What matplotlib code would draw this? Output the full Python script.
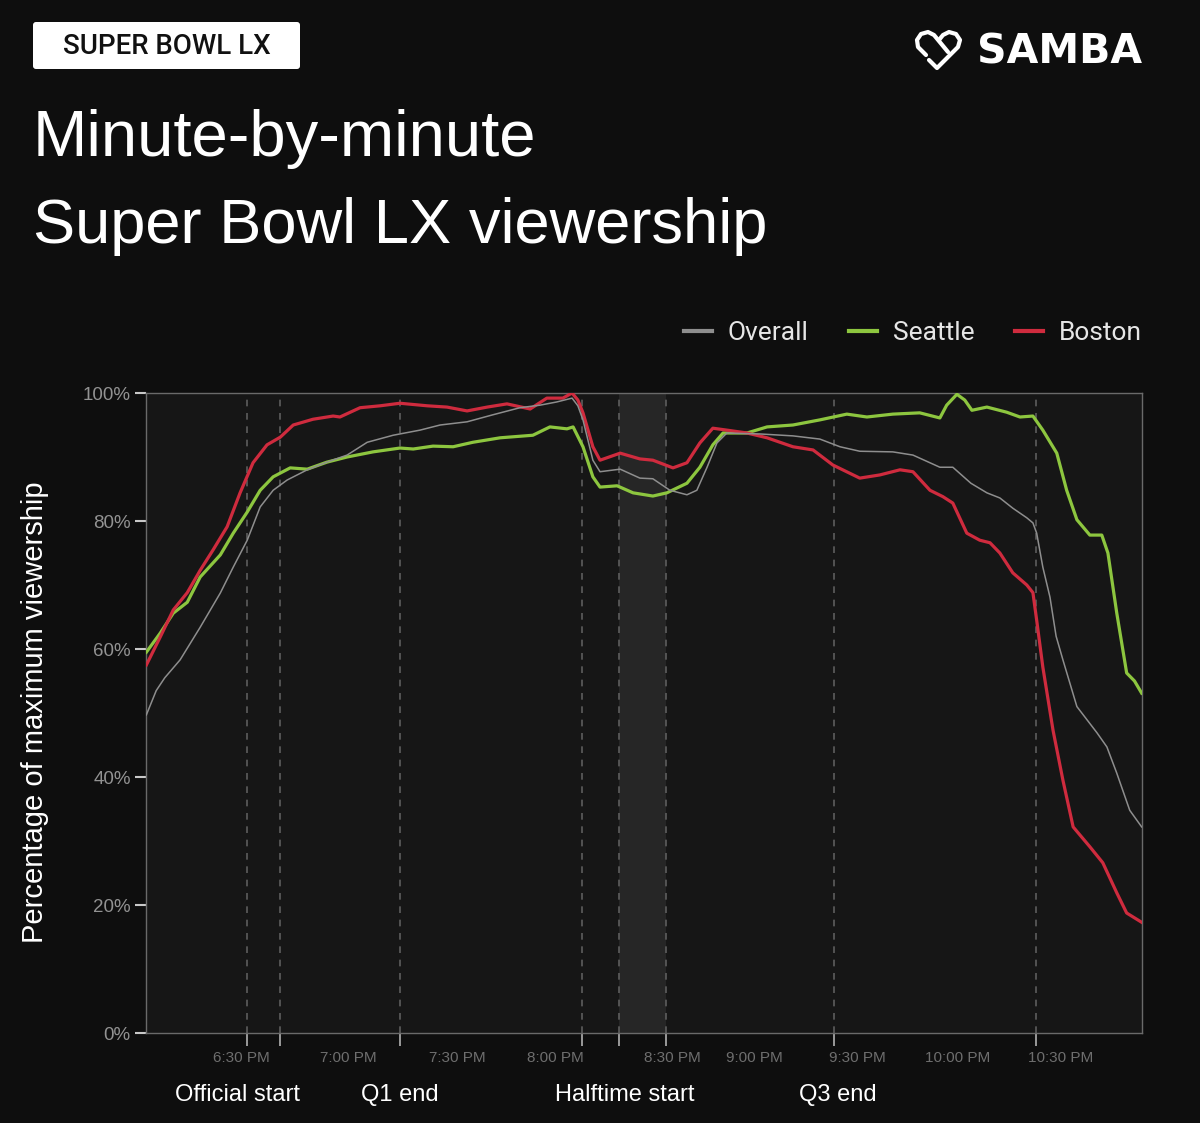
import matplotlib
matplotlib.use("Agg")
import matplotlib.pyplot as plt
from matplotlib.transforms import Affine2D
from matplotlib.patches import FancyBboxPatch
from matplotlib.lines import Line2D

W, H = 1200, 1123

# x = minutes after 6:00 PM, y = % of maximum viewership
overall_t = [1.6, 4.5, 7.0, 11.5, 17.4, 23.3, 27.1, 31.2, 35.0, 38.8, 42.9, 48.8, 54.6, 60.5, 66.4,
             74.0, 81.9, 87.8, 95.7, 103.3, 111.2, 117.1, 122.0, 126.5, 128.2, 129.7, 132.6, 134.7,
             140.6, 146.4, 150.2, 155.2, 160.2, 163.1, 166.1, 169.0, 171.9, 181.6, 191.3, 199.2,
             205.1, 210.9, 220.6, 226.5, 234.4, 238.2, 243.5, 248.2, 252.0, 255.8, 259.9, 261.7,
             262.8, 264.6, 266.7, 268.5, 270.5, 274.6, 280.5, 283.4, 286.3, 290.1, 293.6]
overall_v = [49.7, 53.5, 55.5, 58.3, 63.4, 68.75, 72.8, 77.0, 82.2, 84.8, 86.4, 88.0, 89.2, 90.3, 92.3,
             93.4, 94.2, 95.0, 95.5, 96.6, 97.7, 98.1, 98.6, 99.2, 98.0, 95.8, 89.5, 87.7,
             88.1, 86.7, 86.6, 84.8, 84.1, 84.8, 88.4, 92.2, 93.75, 93.6, 93.3, 92.8,
             91.6, 90.9, 90.8, 90.3, 88.4, 88.4, 85.9, 84.4, 83.6, 82.0, 80.5, 79.7,
             78.1, 72.8, 68.1, 62.0, 58.3, 51.0, 46.9, 44.7, 40.6, 34.8, 32.2]

seattle_t = [1.6, 5.7, 9.5, 13.6, 17.4, 23.3, 27.1, 31.2, 35.0, 38.8, 43.8, 48.8, 54.6, 60.5, 68.1,
             76.0, 79.9, 85.7, 91.6, 97.4, 105.4, 115.0, 120.0, 125.0, 126.8, 129.7, 132.6, 134.7,
             139.7, 144.4, 150.2, 154.3, 160.2, 164.0, 167.8, 170.8, 177.8, 183.7, 191.3, 199.2,
             207.1, 213.0, 220.6, 228.5, 234.4, 236.4, 239.4, 241.7, 243.8, 248.2, 254.0, 257.9,
             261.7, 264.6, 268.7, 271.6, 274.6, 278.4, 281.9, 283.7, 286.3, 289.2, 291.5, 293.6]
seattle_v = [59.5, 62.5, 65.6, 67.3, 71.25, 74.7, 78.1, 81.4, 84.8, 86.9, 88.3, 88.1, 89.2, 90.0, 90.8,
             91.4, 91.25, 91.7, 91.6, 92.3, 93.0, 93.4, 94.7, 94.4, 94.7, 91.6, 86.9, 85.3,
             85.5, 84.4, 83.9, 84.4, 85.9, 88.4, 91.9, 93.75, 93.75, 94.7, 95.0, 95.8,
             96.7, 96.25, 96.7, 96.9, 96.1, 98.1, 99.8, 98.9, 97.3, 97.8, 97.0, 96.25,
             96.4, 94.2, 90.6, 84.8, 80.2, 77.8, 77.8, 75.0, 65.6, 56.25, 55.0, 53.1]

boston_t = [1.6, 5.7, 9.5, 13.6, 17.4, 21.2, 25.3, 29.1, 32.9, 37.0, 40.9, 44.7, 50.5, 56.4, 58.4,
            64.3, 70.2, 76.0, 84.0, 89.8, 95.7, 101.6, 107.4, 114.2, 119.1, 123.8, 126.5, 128.2,
            129.7, 132.6, 134.7, 140.6, 146.4, 150.2, 156.1, 160.2, 164.0, 167.8, 171.9, 177.8,
            183.7, 191.3, 197.2, 203.0, 210.9, 216.8, 222.7, 226.5, 231.5, 235.3, 238.2, 242.3,
            246.1, 249.1, 252.0, 255.8, 259.9, 261.7, 262.8, 264.6, 267.6, 270.5, 273.5, 278.4,
            282.2, 286.3, 289.2, 293.6]
boston_v = [57.5, 61.9, 66.1, 68.8, 72.3, 75.5, 79.1, 84.4, 89.1, 91.9, 93.1, 95.0, 95.9, 96.4, 96.25,
            97.7, 98.0, 98.4, 98.0, 97.8, 97.2, 97.8, 98.3, 97.5, 99.2, 99.2, 100.0, 98.9,
            96.9, 91.6, 89.5, 90.6, 89.7, 89.5, 88.3, 89.1, 92.2, 94.5, 94.2, 93.75,
            93.0, 91.6, 91.1, 88.75, 86.7, 87.2, 88.0, 87.7, 84.8, 83.8, 82.8, 78.1,
            77.0, 76.6, 75.0, 71.9, 70.0, 68.8, 64.5, 57.2, 47.3, 39.5, 32.2, 29.1,
            26.6, 21.9, 18.75, 17.3]

tick_pos = [29.4, 60.8, 92.8, 121.5, 155.8, 180.1, 210.1, 239.7, 269.9]
tick_labels = ["6:30 PM", "7:00 PM", "7:30 PM", "8:00 PM", "8:30 PM",
               "9:00 PM", "9:30 PM", "10:00 PM", "10:30 PM"]
event_lines = [31.2, 40.9, 76.0, 129.4, 140.3, 154.0, 203.3, 262.5]
halftime = (140.3, 154.0)
event_pos = [28.4, 76.0, 141.9, 204.5]
event_names = ["Official start", "Q1 end", "Halftime start", "Q3 end"]
y_ticks = [0, 20, 40, 60, 80, 100]

BG = "#0e0e0e"
GRAY, GREEN, RED = "#8e8e8e", "#8dc63f", "#cf2b3e"

fig = plt.figure(figsize=(W / 100, H / 100), dpi=100, facecolor=BG)
# pixel coords measured from the top-left corner
px = Affine2D().scale(1 / W, -1 / H).translate(0, 1) + fig.transFigure

ax = fig.add_axes([146 / W, 1 - 1033 / H, (1142 - 146) / W, (1033 - 393) / H])
ax.set_facecolor("#161616")

ax.axvspan(*halftime, color="#262626", lw=0, zorder=0)
for x in event_lines:
    ax.axvline(x, color="#5e5e5e", lw=1.2, ls=(0, (4, 4)), zorder=1)

l_sea, = ax.plot(seattle_t, seattle_v, color=GREEN, lw=2.3, zorder=3, solid_joinstyle="round")
l_bos, = ax.plot(boston_t, boston_v, color=RED, lw=2.3, zorder=4, solid_joinstyle="round")
l_all, = ax.plot(overall_t, overall_v, color=GRAY, lw=1.1, zorder=5, solid_joinstyle="round")

ax.set_xlim(1.5, 293.7)
ax.set_ylim(0, 100)
for s in ax.spines.values():
    s.set_color("#6a6a6a")
    s.set_linewidth(1.0)

ax.set_yticks(y_ticks, [f"{v}%" for v in y_ticks])
ax.tick_params(axis="y", length=8, width=1.5, color="#c8c8c8", labelcolor="#929292",
               labelsize=13.5, pad=3)
for t in ax.get_yticklabels():
    t.set_family("Liberation Sans")

ax.set_xticks(tick_pos, tick_labels)
ax.set_xticks(event_lines, minor=True)
ax.tick_params(axis="x", which="major", length=0, pad=13, labelsize=11, labelcolor="#6e6e6e")
ax.tick_params(axis="x", which="minor", length=9, width=1.4, color="#9a9a9a")
for t in ax.get_xticklabels():
    t.set_family("Liberation Sans")

# event names under the time axis
for x, name in zip(event_pos, event_names):
    ax.text(x, (1033 - 1101) / 640, name, transform=ax.get_xaxis_transform(), ha="center",
            va="baseline", fontsize=17, color="white", family="Liberation Sans")

fig.text(35, 712, "Percentage of maximum viewership", transform=px, rotation=90, ha="center",
         va="center", fontsize=21, color="white", family="Liberation Sans")

leg = ax.legend([l_all, l_sea, l_bos], ["Overall", "Seattle", "Boston"], ncol=3,
                loc="center right", bbox_to_anchor=(1.0, 1 + (393 - 333.5) / 640),
                frameon=False, prop=dict(family="Roboto", size=19), handlelength=1.05,
                handletextpad=0.6, columnspacing=1.55, borderaxespad=0, borderpad=0)
for h in leg.legend_handles:
    h.set_linewidth(3)
for t in leg.get_texts():
    t.set_color("#e6e6e6")

# title
fig.text(33, 156, "Minute-by-minute", transform=px, ha="left", va="baseline", fontsize=47,
         color="white", family="Liberation Sans")
fig.text(33, 243, "Super Bowl LX viewership", transform=px, ha="left", va="baseline",
         fontsize=45.5, color="white", family="Liberation Sans")

# badge
badge = FancyBboxPatch((33, 22), 267, 47, boxstyle="round,pad=0,rounding_size=3",
                       transform=px, facecolor="white", edgecolor="none")
fig.add_artist(badge)
fig.text(166.5, 46, "SUPER BOWL LX", transform=px, ha="center", va="center", fontsize=20,
         weight="medium", color="#111111", family="Roboto")

# samba logo
fig.text(1142, 63, "SAMBA", transform=px, ha="right", va="baseline", fontsize=29.5,
         weight="bold", color="white", family="DejaVu Sans")
icon_a = [(926, 55), (918, 47), (917, 40), (921, 34), (928, 32), (934, 35), (948, 52)]
icon_b = [(929, 60), (937, 68), (958, 47), (960, 40), (956, 34), (949, 32), (943, 35), (939, 40)]
for pts in (icon_a, icon_b):
    fig.add_artist(Line2D([p[0] for p in pts], [p[1] for p in pts], transform=px,
                          color="white", lw=3, solid_capstyle="round", solid_joinstyle="round"))

fig.savefig("out.png", dpi=100, facecolor=BG)
